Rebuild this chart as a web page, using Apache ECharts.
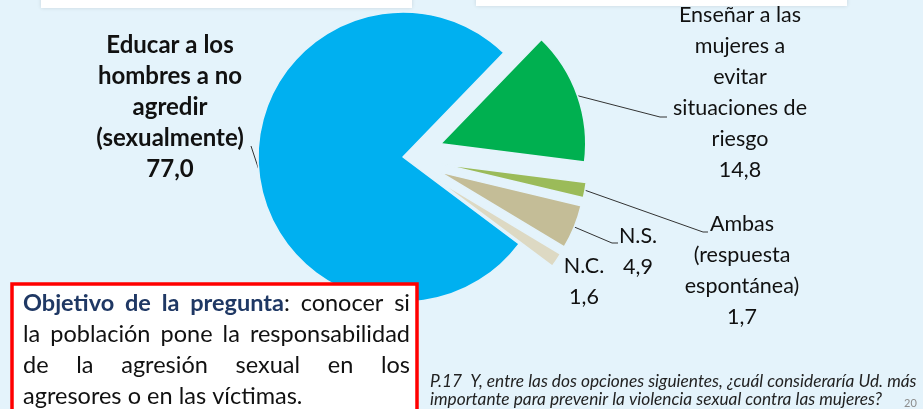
<!DOCTYPE html>
<html>
<head>
<meta charset="utf-8">
<script src="https://cdn.jsdelivr.net/npm/echarts@6/dist/echarts.min.js"></script>
<style>
html, body { margin: 0; padding: 0; background: #e4f3fb; }
#chart { width: 923px; height: 409px; }
</style>
</head>
<body>
<div id="chart"></div>
<script>
// datos de la pregunta P.17
const categories = [
  'Enseñar a las\nmujeres a\nevitar\nsituaciones de\nriesgo',
  'Ambas\n(respuesta\nespontánea)',
  'N.S.',
  'N.C.',
  'Educar a los\nhombres a no\nagredir\n(sexualmente)'
]
const values = [14.8, 1.7, 4.9, 1.6, 77.0]
const sliceColors = ['#00b050', '#9bbb59', '#c4bd97', '#ddd9c3', '#00b0f0']

const boxLines = [
  [{ t: 'Objetivo', b: 1 }, { t: 'de', b: 1 }, { t: 'la', b: 1 }, { t: 'pregunta', b: 1 }, { t: ':', glue: 1 }, { t: 'conocer' }, { t: 'si' }],
  [{ t: 'la' }, { t: 'población' }, { t: 'pone' }, { t: 'la' }, { t: 'responsabilidad' }],
  [{ t: 'de' }, { t: 'la' }, { t: 'agresión' }, { t: 'sexual' }, { t: 'en' }, { t: 'los' }],
  [{ t: 'agresores' }, { t: 'o' }, { t: 'en' }, { t: 'las' }, { t: 'víctimas.' }]
]
const footLines = [
  'P.17  Y, entre las dos opciones siguientes, ¿cuál consideraría Ud. más',
  'importante para prevenir la violencia sexual contra las mujeres?'
]

const FONT = 'Lato'
const BG = '#e4f3fb'
const CENTER = [403, 157]
const R = 145
const OFFSET = 40

// donde va cada etiqueta (centro del bloque) y su línea
const labelSpots = [
  { x: 740, y: 93, line: [[660, 117], [667, 117]] },
  { x: 742, y: 271, line: [[703, 232], [708, 232]] },
  { x: 638, y: 252, line: [[612, 243], [618, 243]] },
  { x: 584, y: 282 },
  { x: 170, y: 107, line: [[251, 146], [251, 146]] }
]

const fmt = v => v.toFixed(1).replace('.', ',')

// texto justificado del recuadro
const measure = document.createElement('canvas').getContext('2d')
function wordWidth (w, size) {
  measure.font = (w.b ? 'bold ' : '') + size + 'px ' + FONT
  return measure.measureText(w.t).width
}
function boxText (x0, x1, y0, lh, size) {
  let els = []
  boxLines.forEach((line, li) => {
    let widths = line.map(w => wordWidth(w, size))
    let total = widths.reduce((a, b) => a + b, 0)
    let gaps = line.filter((w, i) => i > 0 && !w.glue).length
    let last = li === boxLines.length - 1
    let gap = last ? size * 0.26 : (x1 - x0 - total) / gaps
    let x = x0
    line.forEach((w, i) => {
      if (i > 0 && !w.glue) x += gap
      els.push({
        type: 'text',
        z: 101,
        x: x,
        y: y0 + li * lh,
        style: {
          text: w.t,
          fontFamily: FONT,
          fontSize: size,
          fontWeight: w.b ? 'bold' : 'normal',
          fill: w.b ? '#1f3864' : '#111',
          verticalAlign: 'middle'
        }
      })
      x += widths[i]
    })
  })
  return els
}

const labelStyle = {
  show: true,
  position: 'outside',
  formatter: p => p.name + '\n' + fmt(p.value),
  fontFamily: FONT,
  fontSize: 21.5,
  lineHeight: 31,
  color: '#111',
  align: 'center'
}
const lineStyle = { show: true, lineStyle: { color: '#333', width: 1 } }
function placeLabel (p) {
  let s = labelSpots[p.dataIndex]
  let out = { x: s.x, y: s.y, align: 'center', verticalAlign: 'middle' }
  if (s.line && p.labelLinePoints) {
    out.labelLinePoints = [p.labelLinePoints[0], s.line[0], s.line[1]]
  }
  return out
}

const myChart = echarts.init(document.getElementById('chart'))

// sectores (los pequeños separados del centro)
let pieData = categories.map((name, i) => {
  let item = {
    name: name,
    value: values[i],
    selected: i < 4,
    itemStyle: { color: sliceColors[i] }
  }
  if (i === 4) {
    item.label = { show: true, fontWeight: 'bold', fontSize: 24 }
  } else {
    item.label = { show: false }
  }
  return item
})

// copia sin relleno, con el radio de los sectores separados, solo para las etiquetas
let ghostData = categories.map((name, i) => ({
  name: name,
  value: values[i],
  label: { show: i < 4 },
  labelLine: { show: i < 3 }
}))

let option = {
  backgroundColor: BG,
  animation: false,
  series: [
    {
      type: 'pie',
      center: CENTER,
      radius: R,
      startAngle: 46,
      clockwise: true,
      selectedMode: 'multiple',
      selectedOffset: OFFSET,
      avoidLabelOverlap: false,
      data: pieData,
      itemStyle: { borderColor: BG, borderWidth: 1.5 },
      select: { itemStyle: { borderColor: BG, borderWidth: 1.5 } },
      label: labelStyle,
      labelLine: lineStyle,
      labelLayout: placeLabel
    },
    {
      type: 'pie',
      silent: true,
      center: CENTER,
      radius: R + OFFSET,
      startAngle: 46,
      clockwise: true,
      avoidLabelOverlap: false,
      data: ghostData,
      itemStyle: { color: 'rgba(0,0,0,0)', borderWidth: 0 },
      label: labelStyle,
      labelLine: lineStyle,
      labelLayout: placeLabel
    }
  ],
  graphic: [
    {
      type: 'rect',
      z: 0,
      shape: { x: 41, y: -12, width: 371, height: 20 },
      style: { fill: '#fff', shadowBlur: 4, shadowColor: 'rgba(0,0,0,0.12)' }
    },
    {
      type: 'rect',
      z: 0,
      shape: { x: 476, y: -12, width: 371, height: 18 },
      style: { fill: '#fff', shadowBlur: 4, shadowColor: 'rgba(0,0,0,0.12)' }
    },
    {
      type: 'rect',
      z: 100,
      shape: { x: 12, y: 284, width: 405, height: 140 },
      style: { fill: '#fff', stroke: '#ff0000', lineWidth: 3.5 }
    },
    ...boxText(23, 410, 303, 31, 23.5),
    {
      type: 'text',
      x: 430,
      y: 381,
      style: { text: footLines[0], fontFamily: FONT, fontStyle: 'italic', fontSize: 17.3, fill: '#222', verticalAlign: 'middle' }
    },
    {
      type: 'text',
      x: 430,
      y: 399,
      style: { text: footLines[1], fontFamily: FONT, fontStyle: 'italic', fontSize: 17.3, fill: '#222', verticalAlign: 'middle' }
    },
    {
      type: 'text',
      x: 904,
      y: 403,
      style: { text: '20', fontFamily: FONT, fontSize: 11, fill: '#8c8c8c', verticalAlign: 'middle' }
    }
  ]
}
myChart.setOption(option)
</script>
</body>
</html>
